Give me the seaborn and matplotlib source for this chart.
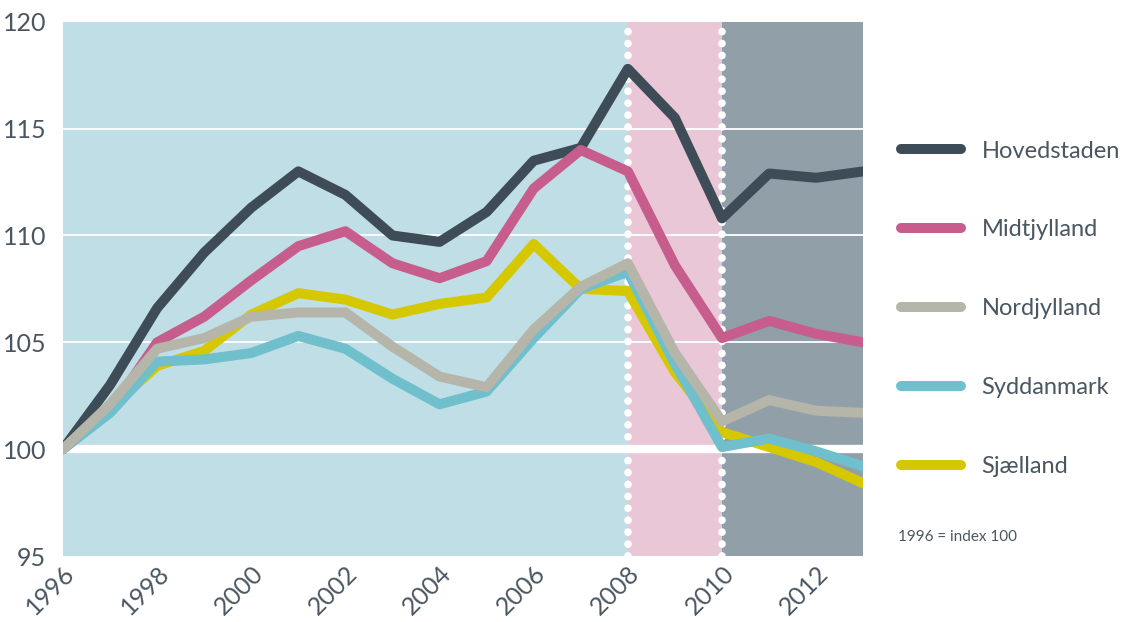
import matplotlib
matplotlib.use("Agg")
import pandas as pd
import matplotlib.pyplot as plt
import seaborn as sns

# data (index, 1996 = 100)
years = list(range(1996, 2014))
hovedstaden = [100.0, 103.0, 106.6, 109.2, 111.3, 113.0, 111.9, 110.0, 109.7, 111.1,
               113.5, 114.1, 117.8, 115.5, 110.8, 112.9, 112.7, 113.0]
midtjylland = [100.0, 101.8, 105.0, 106.2, 107.9, 109.5, 110.2, 108.7, 108.0, 108.8,
               112.2, 114.0, 113.0, 108.6, 105.2, 106.0, 105.4, 105.0]
nordjylland = [100.0, 102.1, 104.7, 105.2, 106.2, 106.4, 106.4, 104.8, 103.4, 102.9,
               105.6, 107.6, 108.7, 104.5, 101.3, 102.3, 101.8, 101.7]
syddanmark = [100.0, 101.7, 104.1, 104.2, 104.5, 105.3, 104.7, 103.3, 102.1, 102.7,
              105.2, 107.5, 108.3, 104.0, 100.1, 100.5, 99.9, 99.2]
sjaelland = [100.0, 101.9, 103.9, 104.6, 106.3, 107.3, 107.0, 106.3, 106.8, 107.1,
             109.6, 107.5, 107.4, 103.6, 100.8, 100.1, 99.4, 98.4]

legend_order = ["Hovedstaden", "Midtjylland", "Nordjylland", "Syddanmark", "Sjælland"]
draw_order = ["Hovedstaden", "Midtjylland", "Sjælland", "Syddanmark", "Nordjylland"]
palette = {"Hovedstaden": "#3e4c57", "Midtjylland": "#c75d8d", "Nordjylland": "#b5b5aa",
           "Syddanmark": "#70bfcc", "Sjælland": "#d6c800"}

df = pd.DataFrame({"year": years, "Hovedstaden": hovedstaden, "Midtjylland": midtjylland,
                   "Nordjylland": nordjylland, "Syddanmark": syddanmark, "Sjælland": sjaelland})
long = df.melt(id_vars="year", var_name="region", value_name="index")

sns.set_theme(style="white")
plt.rcParams["font.family"] = ["Lato", "DejaVu Sans"]
text_col = "#4a5661"

fig = plt.figure(figsize=(11.24, 6.22), dpi=100)
ax = fig.add_axes([0.056, 0.106, 0.712, 0.859])

# background periods
ax.axvspan(1996, 2008, color="#c0dee6", lw=0, zorder=0)
ax.axvspan(2008, 2010, color="#e9c7d7", lw=0, zorder=0)
ax.axvspan(2010, 2013, color="#919fa8", lw=0, zorder=0)

for y in [105, 110, 115]:
    ax.axhline(y, color="white", lw=1.3, zorder=1)
ax.axhline(100, color="white", lw=6, zorder=1)

# dotted period markers
for x in [2008, 2010]:
    ax.axvline(x, color="white", lw=5.5, linestyle=(0, (0.01, 1.55)),
               dash_capstyle="round", zorder=1.5)

sns.lineplot(data=long, x="year", y="index", hue="region", hue_order=draw_order,
             palette=palette, lw=7.2, ax=ax, legend=True, zorder=2)
for line in ax.get_lines()[-5:]:
    line.set_solid_joinstyle("miter")

handles, labels = ax.get_legend_handles_labels()
hmap = dict(zip(labels, handles))
leg = ax.legend([hmap[r] for r in legend_order], legend_order, loc="upper left",
                bbox_to_anchor=(1.021, 0.8175), frameon=False, fontsize=17,
                handlelength=2.55, handletextpad=0.85, labelspacing=2.45,
                labelcolor=text_col)
for h in leg.get_lines():
    h.set_linewidth(7.2)
    h.set_solid_capstyle("round")

ax.text(1.044, 0.036, "1996 = index 100", transform=ax.transAxes, fontsize=11,
        color=text_col, va="center")

ax.set_xlim(1996, 2013)
ax.set_ylim(95, 120)
ax.set_xticks(range(1996, 2013, 2))
ax.set_yticks(range(95, 121, 5))
ax.set_xlabel("")
ax.set_ylabel("")
ax.tick_params(axis="both", length=0, labelsize=18, labelcolor=text_col)
ax.tick_params(axis="x", pad=4)
ax.tick_params(axis="y", pad=12)
plt.setp(ax.get_xticklabels(), rotation=45, ha="right", rotation_mode="anchor")
sns.despine(ax=ax, left=True, bottom=True)

fig.savefig("out.png", dpi=100)
